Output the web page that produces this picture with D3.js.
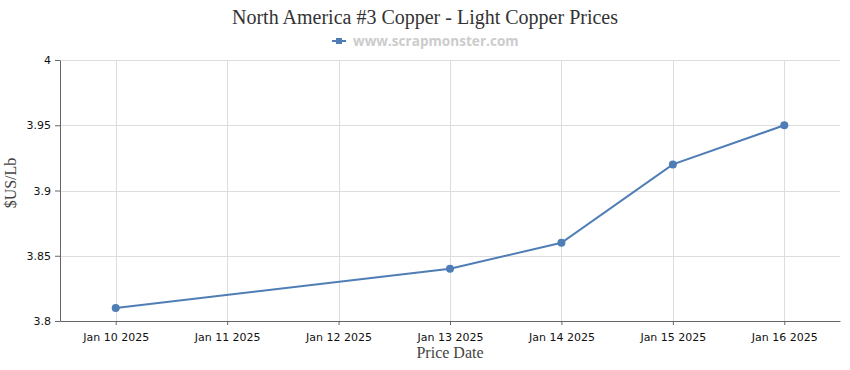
<!DOCTYPE html>
<html>
<head>
<meta charset="utf-8">
<script src="https://cdn.jsdelivr.net/npm/d3@7"></script>
<style>
  body { margin: 0; background: #fff; }
  svg { display: block; }
</style>
</head>
<body>
<svg></svg>
<script>
// Chart data
var dates = ["2025-01-10", "2025-01-13", "2025-01-14", "2025-01-15", "2025-01-16"];
var prices = [3.81, 3.84, 3.86, 3.92, 3.95];
var tickDates = ["2025-01-10", "2025-01-11", "2025-01-12", "2025-01-13", "2025-01-14", "2025-01-15", "2025-01-16"];
var yTicks = [3.8, 3.85, 3.9, 3.95, 4];

var w = 850;
var h = 370;
var margin = { top: 60, right: 10, bottom: 49, left: 60 };
var lineColor = "#4f7db5";

var parse = d3.utcParse("%Y-%m-%d");
var data = dates.map(function (d, i) { return { date: parse(d), value: prices[i] }; });
var ticks = tickDates.map(parse);
var halfDay = 12 * 3600 * 1000;

var svg = d3.select("svg")
    .attr("width", w)
    .attr("height", h);

var x = d3.scaleUtc()
    .domain([new Date(+ticks[0] - halfDay), new Date(+ticks[ticks.length - 1] + halfDay)])
    .range([margin.left, w - margin.right]);

var y = d3.scaleLinear()
    .domain([3.8, 4])
    .range([h - margin.bottom, margin.top]);

// Gridlines
svg.append("g")
    .selectAll("line")
    .data(yTicks)
    .enter().append("line")
    .attr("x1", margin.left)
    .attr("x2", w - margin.right)
    .attr("y1", function (d) { return Math.round(y(d)) + 0.5; })
    .attr("y2", function (d) { return Math.round(y(d)) + 0.5; })
    .attr("stroke", "#ddd");

svg.append("g")
    .selectAll("line")
    .data(ticks)
    .enter().append("line")
    .attr("x1", function (d) { return Math.round(x(d)) + 0.5; })
    .attr("x2", function (d) { return Math.round(x(d)) + 0.5; })
    .attr("y1", margin.top)
    .attr("y2", h - margin.bottom)
    .attr("stroke", "#ddd");

// Axes
var xAxis = svg.append("g")
    .attr("transform", "translate(0," + (h - margin.bottom) + ")")
    .call(d3.axisBottom(x)
        .tickValues(ticks)
        .tickSize(4)
        .tickSizeOuter(0)
        .tickFormat(d3.utcFormat("%b %-d %Y")));

var yAxis = svg.append("g")
    .attr("transform", "translate(" + margin.left + ",0)")
    .call(d3.axisLeft(y)
        .tickValues(yTicks)
        .tickSize(5)
        .tickSizeOuter(0)
        .tickFormat(d3.format("")));

[xAxis, yAxis].forEach(function (a) {
    a.select(".domain").attr("stroke", "#666");
    a.selectAll(".tick line").attr("stroke", "#666");
    a.selectAll(".tick text")
        .attr("fill", "#111")
        .style("font-family", "'DejaVu Sans', Verdana, sans-serif")
        .style("font-size", "11px");
});
xAxis.selectAll(".tick text").attr("dy", "1.2em");
yAxis.selectAll(".tick text").attr("x", -9);

// Line and points
var line = d3.line()
    .x(function (d) { return x(d.date); })
    .y(function (d) { return y(d.value); });

svg.append("path")
    .datum(data)
    .attr("fill", "none")
    .attr("stroke", lineColor)
    .attr("stroke-width", 2)
    .attr("d", line);

svg.append("g")
    .selectAll("circle")
    .data(data)
    .enter().append("circle")
    .attr("cx", function (d) { return x(d.date); })
    .attr("cy", function (d) { return y(d.value); })
    .attr("r", 4)
    .attr("fill", lineColor);

// Title
svg.append("text")
    .attr("x", w / 2)
    .attr("y", 24)
    .attr("text-anchor", "middle")
    .style("font-family", "'Liberation Serif', 'Times New Roman', serif")
    .style("font-size", "20px")
    .attr("fill", "#333")
    .text("North America #3 Copper - Light Copper Prices");

// Legend
var legend = svg.append("g").attr("transform", "translate(332,41)");
legend.append("line")
    .attr("x1", 0).attr("x2", 14)
    .attr("y1", 0).attr("y2", 0)
    .attr("stroke", lineColor)
    .attr("stroke-width", 2);
legend.append("rect")
    .attr("x", 4).attr("y", -3)
    .attr("width", 6).attr("height", 6)
    .attr("fill", lineColor);
legend.append("text")
    .attr("x", 21)
    .attr("y", 5)
    .style("font-family", "'Open Sans', Verdana, sans-serif")
    .style("font-size", "13.6px")
    .style("font-weight", "bold")
    .attr("fill", "#ccc")
    .text("www.scrapmonster.com");

// Axis titles
svg.append("text")
    .attr("x", (margin.left + w - margin.right) / 2)
    .attr("y", 358)
    .attr("text-anchor", "middle")
    .style("font-family", "'Liberation Serif', 'Times New Roman', serif")
    .style("font-size", "16px")
    .attr("fill", "#444")
    .text("Price Date");

svg.append("text")
    .attr("transform", "translate(16,183) rotate(-90)")
    .attr("text-anchor", "middle")
    .style("font-family", "'Liberation Serif', 'Times New Roman', serif")
    .style("font-size", "16px")
    .attr("fill", "#444")
    .text("$US/Lb");
</script>
</body>
</html>
